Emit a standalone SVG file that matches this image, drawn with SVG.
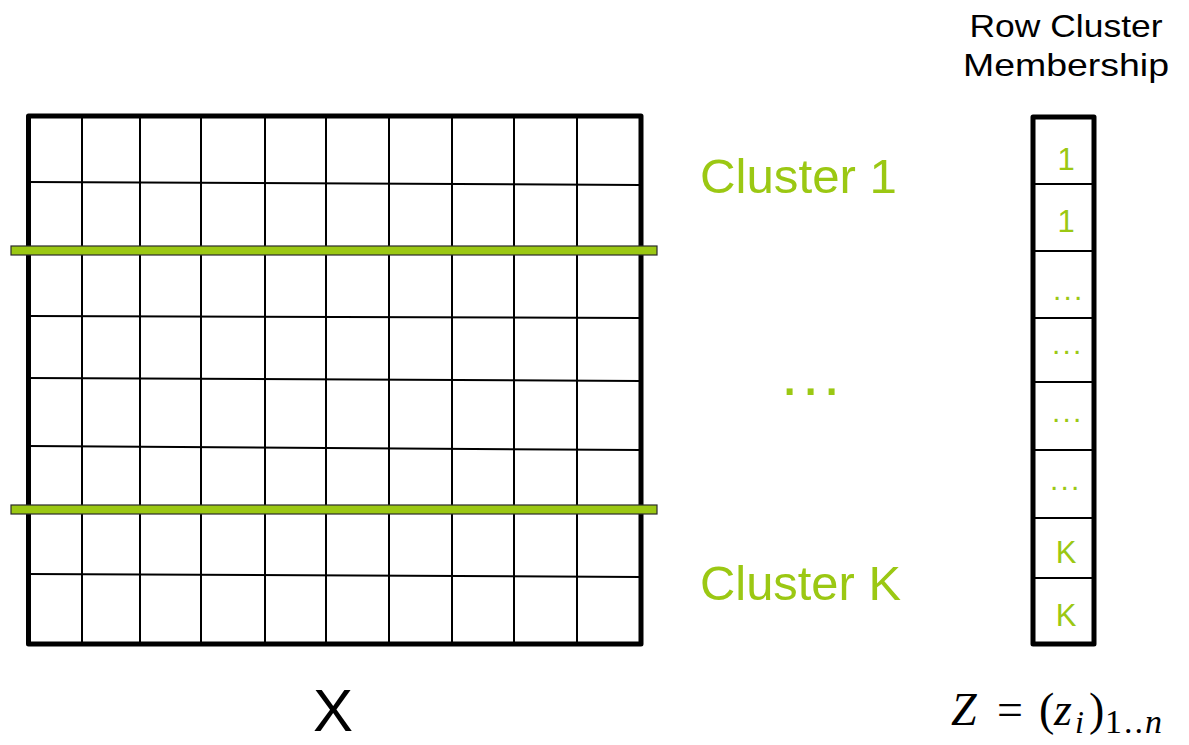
<svg xmlns="http://www.w3.org/2000/svg" width="1189" height="745" viewBox="0 0 1189 745">
<style>
.grid{stroke:#000;stroke-width:2;fill:none}
.frame{stroke:#000;stroke-width:5;fill:none;stroke-linejoin:round}
.bar{fill:#9BC813;stroke:#2a2a2a;stroke-width:1.2}
.g{fill:#9BC813;font-family:"Liberation Sans",Arial,sans-serif}
.k{fill:#000;font-family:"Liberation Sans",Arial,sans-serif}
.m{fill:#000;font-family:"Liberation Serif","DejaVu Serif",serif}
</style>
<rect width="1189" height="745" fill="#fff"/>
<g id="matrix-X">
<g class="grid">
<line x1="82" y1="116" x2="82" y2="644"/>
<line x1="140" y1="116" x2="140" y2="644"/>
<line x1="201" y1="116" x2="201" y2="644"/>
<line x1="265" y1="116" x2="265" y2="644"/>
<line x1="326" y1="116" x2="326" y2="644"/>
<line x1="389" y1="116" x2="389" y2="644"/>
<line x1="452" y1="116" x2="452" y2="644"/>
<line x1="514" y1="116" x2="514" y2="644"/>
<line x1="577" y1="116" x2="577" y2="644"/>
<line x1="28" y1="182" x2="641" y2="185"/>
<line x1="28" y1="316" x2="641" y2="318"/>
<line x1="28" y1="378" x2="641" y2="381"/>
<line x1="28" y1="446" x2="641" y2="450"/>
<line x1="28" y1="574" x2="641" y2="577"/>
</g>
<rect class="frame" x="28.5" y="116" width="612.5" height="528"/>
</g>
<g id="cluster-bars">
<rect class="bar" x="11" y="246" width="646" height="9"/>
<rect class="bar" x="11" y="505" width="646" height="9"/>
</g>
<g id="labels">
<text class="g" x="700" y="193" font-size="49" textLength="197" lengthAdjust="spacingAndGlyphs">Cluster 1</text>
<text class="g" x="700" y="600" font-size="49" textLength="201" lengthAdjust="spacingAndGlyphs">Cluster K</text>
<text class="g" x="781 802 823" y="395" font-size="62">...</text>
<text class="k" x="333" y="731" font-size="60" text-anchor="middle">X</text>
<text class="k" x="1066" y="37" font-size="32" text-anchor="middle" textLength="193" lengthAdjust="spacingAndGlyphs">Row Cluster</text>
<text class="k" x="1066" y="76" font-size="32" text-anchor="middle" textLength="206" lengthAdjust="spacingAndGlyphs">Membership</text>
</g>
<g id="membership-vector">
<g class="grid">
<line x1="1033" y1="184" x2="1094" y2="184"/>
<line x1="1033" y1="251" x2="1094" y2="251"/>
<line x1="1033" y1="318" x2="1094" y2="318"/>
<line x1="1033" y1="382" x2="1094" y2="382"/>
<line x1="1033" y1="450" x2="1094" y2="450"/>
<line x1="1033" y1="518" x2="1094" y2="518"/>
<line x1="1033" y1="578" x2="1094" y2="578"/>
</g>
<rect class="frame" x="1033" y="117" width="61" height="527"/>
<g class="g" font-size="31" text-anchor="middle">
<text x="1066" y="170">1</text>
<text x="1066" y="232">1</text>
</g>
<g class="g" font-size="30">
<text x="1053 1063.5 1074" y="300">...</text>
<text x="1052 1062.5 1073" y="354">...</text>
<text x="1052 1062.5 1073" y="422">...</text>
<text x="1050 1060.5 1071" y="490">...</text>
</g>
<g class="g" font-size="31" text-anchor="middle">
<text x="1066" y="563">K</text>
<text x="1066" y="626">K</text>
</g>
</g>
<g id="formula" class="m">
<text x="951" y="725" font-size="46" font-style="italic">Z</text>
<text x="997" y="725" font-size="46">=</text>
<text x="1039" y="725" font-size="46">(</text>
<text x="1054" y="725" font-size="46" font-style="italic">z</text>
<text x="1075" y="733" font-size="32" font-style="italic">i</text>
<text x="1089" y="725" font-size="46">)</text>
<text x="1105" y="733" font-size="34" letter-spacing="2">1..<tspan font-style="italic">n</tspan></text>
</g>
</svg>
